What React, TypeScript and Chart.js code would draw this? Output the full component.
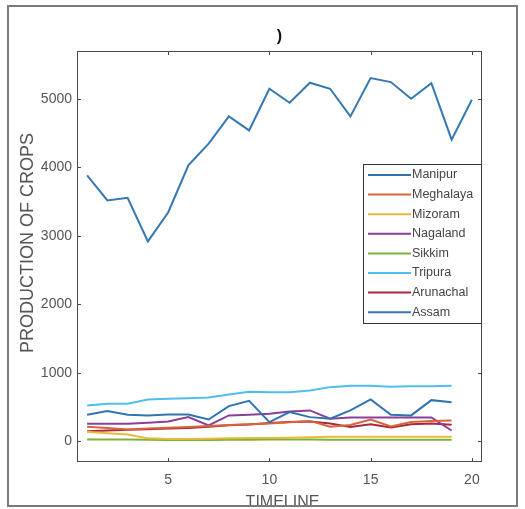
import React, { useEffect, useRef } from "react";
import { Chart, registerables } from "chart.js";

Chart.register(...registerables);

const timeline = [1, 2, 3, 4, 5, 6, 7, 8, 9, 10, 11, 12, 13, 14, 15, 16, 17, 18, 19, 20];
const yTicks = [0, 1000, 2000, 3000, 4000, 5000];
const xTicks = [5, 10, 15, 20];

const manipur = [389, 443, 389, 380, 394, 394, 321, 516, 594, 282, 428, 355, 331, 453, 613, 389, 380, 603, 574];
const meghalaya = [215, 195, 175, 190, 200, 210, 225, 240, 250, 262, 280, 300, 215, 240, 320, 220, 285, 300, 305];
const mizoram = [140, 120, 100, 45, 35, 35, 40, 45, 50, 50, 55, 60, 70, 70, 70, 70, 70, 70, 70];
const nagaland = [258, 258, 258, 272, 292, 355, 234, 380, 389, 404, 438, 453, 331, 350, 350, 350, 350, 350, 160];
const sikkim = [30, 30, 30, 25, 20, 20, 20, 25, 25, 30, 30, 30, 25, 25, 25, 25, 25, 25, 25];
const tripura = [526, 550, 550, 613, 623, 630, 642, 686, 725, 720, 720, 745, 793, 813, 813, 799, 806, 806, 813];
const arunachal = [150, 160, 170, 178, 188, 198, 215, 235, 248, 268, 285, 292, 262, 212, 252, 205, 250, 262, 245];
const assam = [3884, 3519, 3558, 2920, 3343, 4030, 4347, 4745, 4541, 5149, 4945, 5237, 5149, 4745, 5304, 5246, 5003, 5231, 4405, 4989];

const seriesNames = ["Manipur", "Meghalaya", "Mizoram", "Nagaland", "Sikkim", "Tripura", "Arunachal", "Assam"];
const seriesValues = [manipur, meghalaya, mizoram, nagaland, sikkim, tripura, arunachal, assam];
const seriesColors = ["#2f74b0", "#d9633a", "#e8b93a", "#8a3f98", "#7cb13a", "#4dbeee", "#a8283e", "#3478b4"];

const titleText = ")";
const yTitle = "PRODUCTION OF CROPS";
const xTitle = "TIMELINE";

const FONT = "'Liberation Sans', Arial, sans-serif";

const decorPlugin = {
  id: "decor",
  afterDraw(chart: any) {
    const ctx = chart.ctx;
    const a = chart.chartArea;
    const xs = chart.scales.x;
    const ys = chart.scales.y;
    ctx.save();
    // axes box
    ctx.strokeStyle = "#4a4a4a";
    ctx.lineWidth = 1;
    ctx.strokeRect(a.left + 0.5, a.top + 0.5, a.right - a.left - 1, a.bottom - a.top - 1);
    // inward ticks
    ctx.beginPath();
    for (const v of yTicks) {
      const y = Math.round(ys.getPixelForValue(v)) + 0.5;
      ctx.moveTo(a.left, y);
      ctx.lineTo(a.left + 4, y);
      ctx.moveTo(a.right, y);
      ctx.lineTo(a.right - 4, y);
    }
    for (const v of xTicks) {
      const x = Math.round(xs.getPixelForValue(v)) + 0.5;
      ctx.moveTo(x, a.bottom);
      ctx.lineTo(x, a.bottom - 4);
      ctx.moveTo(x, a.top);
      ctx.lineTo(x, a.top + 4);
    }
    ctx.stroke();

    // title
    ctx.fillStyle = "#111";
    ctx.font = "bold 16px " + FONT;
    ctx.textAlign = "center";
    ctx.textBaseline = "middle";
    ctx.fillText(titleText, (a.left + a.right) / 2, 37);

    // y title
    ctx.fillStyle = "#555";
    ctx.font = "18px " + FONT;
    ctx.save();
    ctx.translate(28, 243);
    ctx.rotate(-Math.PI / 2);
    ctx.textAlign = "center";
    ctx.textBaseline = "middle";
    ctx.fillText(yTitle, 0, 0);
    ctx.restore();

    // x title
    ctx.font = "16px " + FONT;
    ctx.textAlign = "center";
    ctx.textBaseline = "middle";
    ctx.fillText(xTitle, (a.left + a.right) / 2 + 3, 503);

    // legend
    const lx = 363, ly = 164, lw = 118, lh = 159;
    ctx.fillStyle = "#fff";
    ctx.fillRect(lx, ly, lw, lh);
    ctx.strokeStyle = "#333";
    ctx.lineWidth = 1;
    ctx.strokeRect(lx + 0.5, ly + 0.5, lw, lh);
    ctx.font = "12.5px " + FONT;
    ctx.textAlign = "left";
    ctx.textBaseline = "middle";
    seriesNames.forEach((name, i) => {
      const y = 175 + i * 19.6;
      ctx.strokeStyle = seriesColors[i];
      ctx.lineWidth = 2;
      ctx.beginPath();
      ctx.moveTo(368, y);
      ctx.lineTo(411, y);
      ctx.stroke();
      ctx.fillStyle = "#444";
      ctx.fillText(name, 412, y);
    });

    // outer frame
    ctx.strokeStyle = "#7a7a7a";
    ctx.lineWidth = 2;
    ctx.strokeRect(8, 6, 509, 500);
    ctx.restore();
  },
};

export default function App() {
  const ref = useRef<HTMLCanvasElement>(null);
  useEffect(() => {
    if (!ref.current) return;
    const datasets = seriesNames.map((name, i) => ({
      label: name,
      data: seriesValues[i].map((v, j) => ({ x: timeline[j], y: v })),
      borderColor: seriesColors[i],
      backgroundColor: seriesColors[i],
      borderWidth: 2,
      pointRadius: 0,
      tension: 0,
      fill: false,
    }));
    const chart = new Chart(ref.current, {
      type: "line",
      data: { datasets },
      options: {
        animation: false,
        responsive: false,
        layout: { padding: { left: 0, top: 51, right: 43, bottom: 0 } },
        plugins: { legend: { display: false }, tooltip: { enabled: false }, title: { display: false } },
        scales: {
          x: {
            type: "linear",
            min: 0.5,
            max: 20.5,
            afterBuildTicks: (s: any) => {
              s.ticks = xTicks.map((v) => ({ value: v }));
            },
            afterFit: (s: any) => {
              s.height = 47;
            },
            grid: { display: false, drawTicks: false },
            border: { display: false },
            ticks: { color: "#555", padding: 10, font: { size: 14, family: FONT }, callback: (v: any) => String(v) },
          },
          y: {
            type: "linear",
            min: -300,
            max: 5700,
            afterBuildTicks: (s: any) => {
              s.ticks = yTicks.map((v) => ({ value: v }));
            },
            afterFit: (s: any) => {
              s.width = 77;
            },
            grid: { display: false, drawTicks: false },
            border: { display: false },
            ticks: { color: "#555", padding: 5, font: { size: 14, family: FONT }, callback: (v: any) => String(v) },
          },
        },
      },
      plugins: [decorPlugin],
    });
    return () => chart.destroy();
  }, []);
  return (
    <div style={{ position: "fixed", left: 0, top: 0, width: 525, height: 509, background: "#fff" }}>
      <canvas ref={ref} width={525} height={509} style={{ width: 525, height: 509, display: "block" }} />
    </div>
  );
}
